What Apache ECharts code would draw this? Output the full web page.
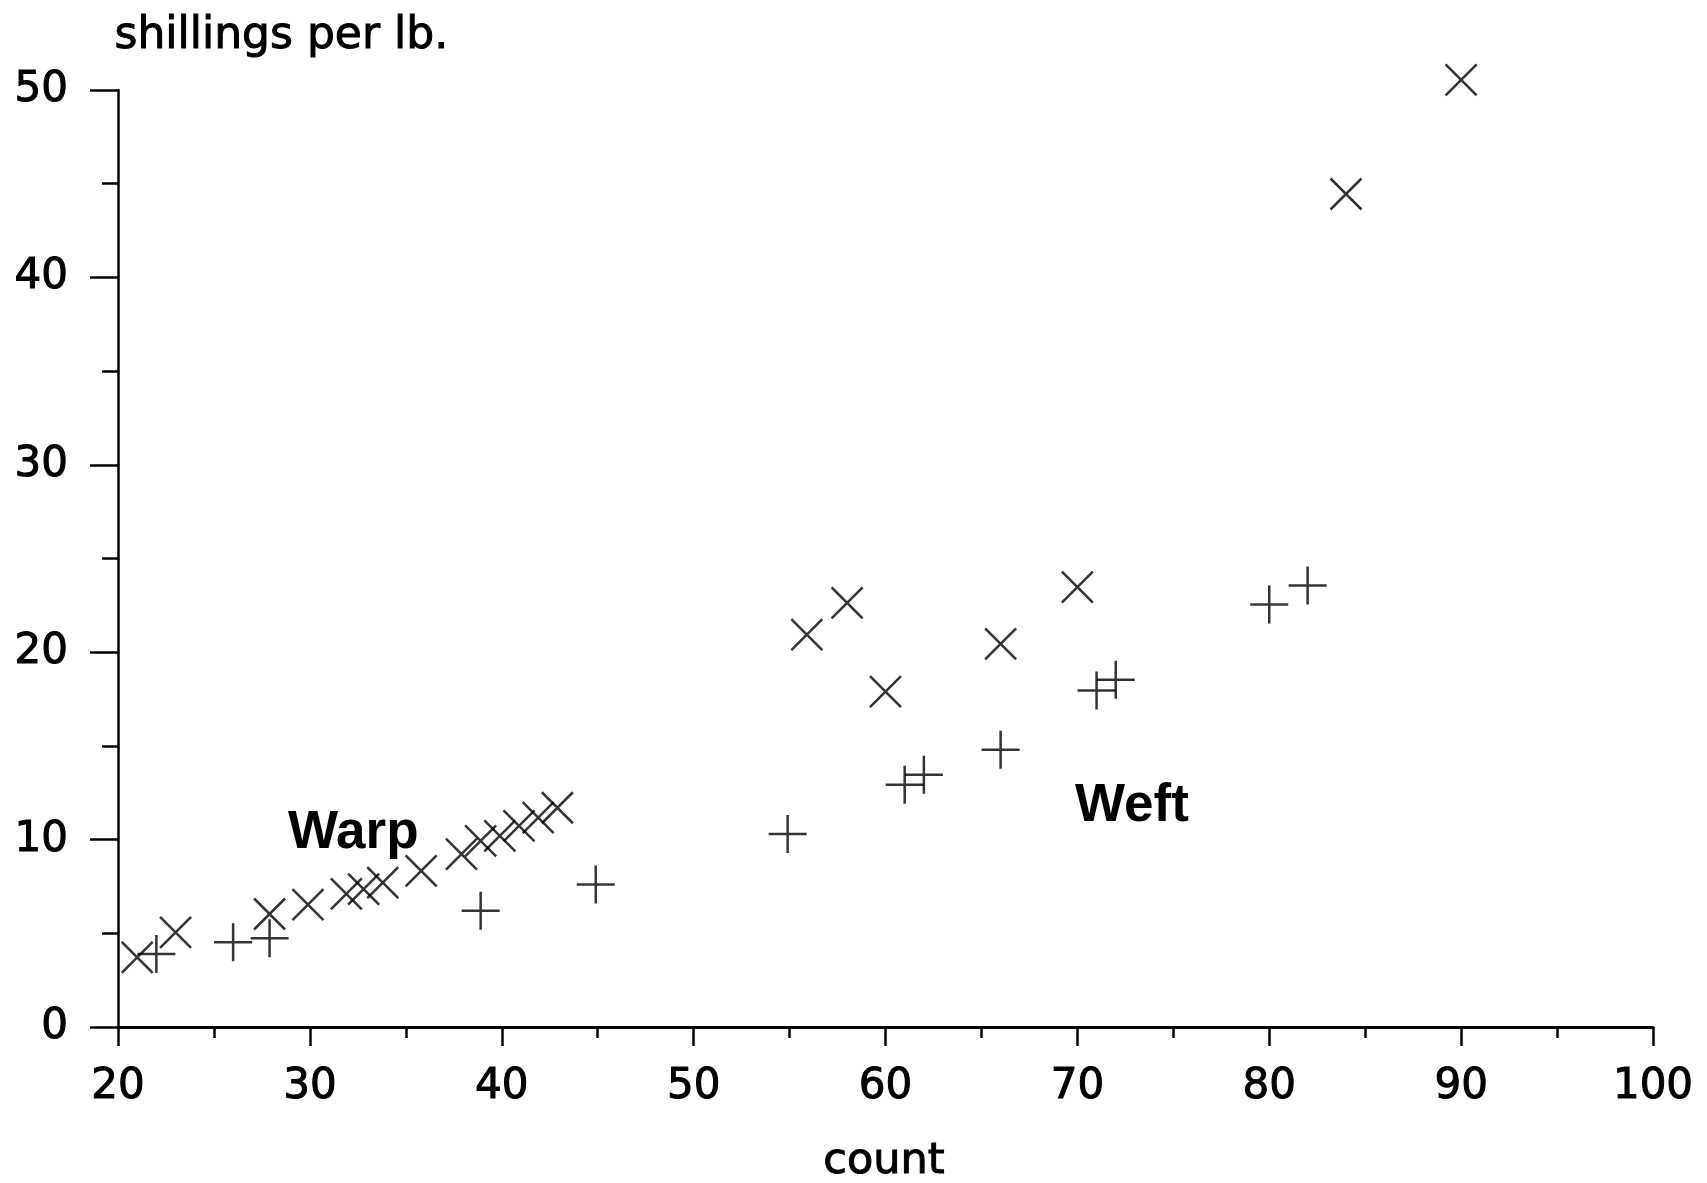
<!DOCTYPE html>
<html>
<head>
<meta charset="utf-8">
<script src="https://cdn.jsdelivr.net/npm/echarts@6/dist/echarts.min.js"></script>
<style>
html,body{margin:0;padding:0;background:#fff;}
#chart{width:1707px;height:1183px;}
</style>
</head>
<body>
<div id="chart"></div>
<script>
// Warp (x markers): [count, shillings per lb.]
const warpCounts = [21.0, 23.0, 27.9, 29.9, 31.9, 32.8, 33.8, 35.8, 37.9, 38.9, 39.9, 40.9, 41.9, 42.9, 55.9, 58.0, 60.0, 66.0, 70.0, 84.0, 90.0];
const warpPrices = [3.72, 5.05, 6.03, 6.53, 7.10, 7.36, 7.71, 8.33, 9.22, 9.93, 10.2, 10.73, 11.17, 11.7, 20.94, 22.63, 17.9, 20.45, 23.47, 44.45, 50.54];
// Weft (+ markers)
const weftCounts = [22.0, 26.0, 27.9, 38.9, 44.9, 54.9, 61.0, 62.0, 66.0, 71.0, 72.0, 80.0, 82.0];
const weftPrices = [3.9, 4.52, 4.73, 6.2, 7.6, 10.3, 12.93, 13.46, 14.8, 17.96, 18.53, 22.54, 23.56];
const xTicks = [20, 30, 40, 50, 60, 70, 80, 90, 100];
const yTicks = [0, 10, 20, 30, 40, 50];

const zip = (a, b) => a.map((v, i) => [v, b[i]]);
const FONT = 'DejaVu Sans';

const chart = echarts.init(document.getElementById('chart'));
chart.setOption({
  animation: false,
  backgroundColor: '#fff',
  grid: { left: 118, right: 54, top: 90, bottom: 156, containLabel: false },
  xAxis: {
    type: 'value', min: xTicks[0], max: xTicks[xTicks.length - 1], interval: 10,
    axisLine: { show: true, onZero: false, lineStyle: { color: '#000', width: 3 } },
    axisTick: { show: true, inside: false, length: 19, lineStyle: { color: '#000', width: 2.5 } },
    minorTick: { show: true, splitNumber: 2, length: 11, lineStyle: { color: '#000', width: 2.5 } },
    splitLine: { show: false },
    axisLabel: { color: '#000', fontFamily: FONT, fontSize: 42, margin: 39, textBorderColor: '#000', textBorderWidth: 1 }
  },
  yAxis: {
    type: 'value', min: yTicks[0], max: yTicks[yTicks.length - 1], interval: 10,
    axisLine: { show: true, onZero: false, lineStyle: { color: '#000', width: 2.5 } },
    axisTick: { show: true, inside: false, length: 28, lineStyle: { color: '#000', width: 2.5 } },
    minorTick: { show: true, splitNumber: 2, length: 16, lineStyle: { color: '#000', width: 2.5 } },
    splitLine: { show: false },
    axisLabel: { color: '#000', fontFamily: FONT, fontSize: 42, margin: 50, textBorderColor: '#000', textBorderWidth: 1 }
  },
  series: [
    {
      name: 'Warp', type: 'scatter', clip: false,
      symbol: 'path://M0,0L10,10M10,0L0,10', symbolSize: 31,
      itemStyle: { color: 'rgba(0,0,0,0)', borderColor: '#000', borderWidth: 2.5 },
      data: zip(warpCounts, warpPrices)
    },
    {
      name: 'Weft', type: 'scatter', clip: false,
      symbol: 'path://M5,0L5,10M0,5L10,5', symbolSize: 38,
      itemStyle: { color: 'rgba(0,0,0,0)', borderColor: '#000', borderWidth: 2.5 },
      data: zip(weftCounts, weftPrices)
    }
  ],
  graphic: [
    { type: 'text', left: 114, top: 14, style: { text: 'shillings per lb.', fill: '#000', font: '44px "DejaVu Sans"', stroke: '#000', lineWidth: 1 } },
    { type: 'text', x: 884, y: 1162, style: { text: 'count', fill: '#000', font: '43px "DejaVu Sans"', align: 'center', verticalAlign: 'middle', stroke: '#000', lineWidth: 1 } },
    { type: 'text', x: 288, y: 833, style: { text: 'Warp', fill: '#000', font: 'bold 53px "Liberation Sans"', align: 'left', verticalAlign: 'middle' } },
    { type: 'text', x: 1075, y: 806, style: { text: 'Weft', fill: '#000', font: 'bold 53px "Liberation Sans"', align: 'left', verticalAlign: 'middle' } }
  ]
});
</script>
</body>
</html>
